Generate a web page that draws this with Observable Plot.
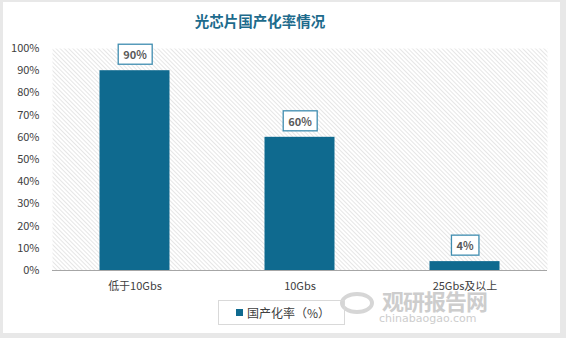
<!DOCTYPE html>
<html><head><meta charset="utf-8">
<script src="https://cdn.jsdelivr.net/npm/d3@7"></script>
<script src="https://cdn.jsdelivr.net/npm/@observablehq/plot@0.6"></script>
<style>
body{margin:0;width:566px;height:338px;background:#e8e8e8;position:relative;overflow:hidden;font-family:"Noto Sans CJK SC","Noto Sans",sans-serif;}
#card{position:absolute;left:3px;top:2px;width:557px;height:331px;background:#fff;}
#title{position:absolute;left:0;top:10px;width:520px;text-align:center;font-size:14.5px;font-weight:bold;color:#1d6b8c;}
#chart{position:absolute;left:0;top:40px;}
#legend{position:absolute;left:218px;top:300px;width:127px;height:25px;border:1px solid #d9d9d9;box-sizing:border-box;font-size:12px;color:#404040;display:flex;align-items:center;}
#legend span.sw{display:inline-block;width:7px;height:7px;background:#0f6a8f;margin-left:17px;margin-right:4px;}
#wm1{position:absolute;left:382px;top:289px;font-size:22px;line-height:1;font-weight:bold;color:#cdcdcd;letter-spacing:-1px;}
#wm2{position:absolute;left:379px;top:313px;font-size:11px;line-height:1;color:#cdcdcd;font-family:"DejaVu Sans",sans-serif;}
#wmlogo{position:absolute;left:340px;top:292px;width:34px;height:22px;border:4px solid #d6d6d6;border-radius:50%;box-sizing:border-box;}
</style></head>
<body>
<div id="card"></div>
<div id="title">光芯片国产化率情况</div>
<div id="chart"></div>
<div id="wmlogo"></div>
<div id="wm1">观研报告网</div>
<div id="wm2">chinabaogao.com</div>
<div id="legend"><span class="sw"></span>国产化率（%）</div>
<script>
const categories = ["低于10Gbs", "10Gbs", "25Gbs及以上"];
const values = [0.90, 0.60, 0.04];
const labels = ["90%", "60%", "4%"];
const yTicks = [0, 0.1, 0.2, 0.3, 0.4, 0.5, 0.6, 0.7, 0.8, 0.9, 1.0];

const data = categories.map((c, i) => ({cat: c, v: values[i], label: labels[i]}));

const plot = Plot.plot({
  width: 566,
  height: 256,
  marginLeft: 52,
  marginRight: 19,
  marginTop: 8,
  marginBottom: 26,
  style: {fontFamily: '"Noto Sans CJK SC","Noto Sans",sans-serif', fontSize: "11px", color: "#404040", background: "transparent"},
  x: {domain: categories, padding: 0, label: null, tickSize: 0, tickPadding: 12},
  y: {domain: [0, 1], ticks: yTicks, tickFormat: d3.format(".0%"), label: null, tickSize: 0, tickPadding: 13},
  marks: [
    Plot.frame({fill: "url(#hatch)", stroke: null}),
    Plot.barY(data, {x: "cat", y: "v", fill: "#0f6a8f", insetLeft: 47.5, insetRight: 47.5, style: "filter: drop-shadow(1px 1px 1.5px rgba(0,0,0,0.35))"}),
    Plot.ruleY([0], {stroke: "#a6a6a6", strokeWidth: 1}),
    Plot.text(data, {x: "cat", y: "v", text: "label", dy: -15, fill: "#595959", fontWeight: "bold", fontSize: 11})
  ]
});
document.getElementById("chart").appendChild(plot);

// hatch pattern
const svg = d3.select(plot);
const defs = svg.insert("defs", ":first-child");
const pat = defs.append("pattern").attr("id", "hatch").attr("patternUnits", "userSpaceOnUse")
  .attr("width", 3).attr("height", 3).attr("patternTransform", "rotate(-45)");
pat.append("rect").attr("width", 3).attr("height", 3).attr("fill", "#ffffff");
pat.append("line").attr("x1", 0).attr("y1", 0).attr("x2", 0).attr("y2", 3).attr("stroke", "#d6d6d6").attr("stroke-width", 1.2);

// boxes around value labels
svg.selectAll('g[aria-label="text"] text').each(function() {
  const b = this.getBBox();
  const r = d3.select(this.parentNode).insert("rect", () => this)
    .attr("x", b.x - 5).attr("y", b.y - 2).attr("width", b.width + 10).attr("height", b.height + 4)
    .attr("fill", "#fff").attr("stroke", "#3f8db0").attr("stroke-width", 1.3);
  const t = this.getAttribute("transform");
  if (t) r.attr("transform", t);
});
svg.style("overflow", "visible");
</script>
</body></html>
